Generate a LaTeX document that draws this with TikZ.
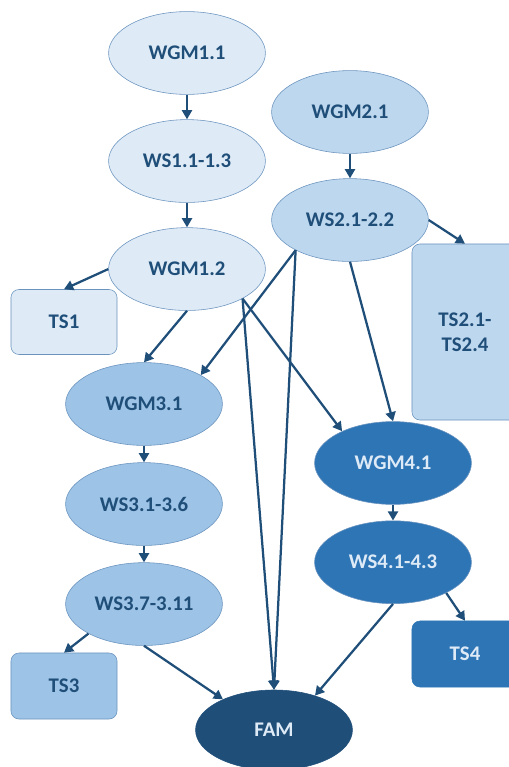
\documentclass[tikz,border=0pt]{standalone}
\usepackage{fontspec}
\setsansfont{Carlito}
\usetikzlibrary{shapes.geometric,arrows.meta}
\definecolor{wgone}{HTML}{DEEBF7}
\definecolor{wgtwo}{HTML}{BDD7EE}
\definecolor{wgthree}{HTML}{9DC3E6}
\definecolor{wgfour}{HTML}{2E75B6}
\definecolor{famblue}{HTML}{1F4E79}
\definecolor{navy}{HTML}{1F4E79}
\definecolor{paletext}{HTML}{DEEBF7}
\definecolor{ovalline}{HTML}{6A93BE}
\begin{document}
\begin{tikzpicture}[
  x=0.025cm, y=-0.025cm,
  oval/.style={ellipse, draw=ovalline, line width=0.4pt, minimum width=3.92cm, minimum height=2.07cm, inner sep=0pt, font=\sffamily\bfseries\fontsize{14.8}{17.5}\selectfont, text=navy},
  tsbox/.style={rectangle, rounded corners=0.2cm, draw=ovalline, line width=0.4pt, minimum width=2.65cm, inner sep=0pt, font=\sffamily\bfseries\fontsize{14.8}{17.5}\selectfont, text=navy, align=center},
  >={Triangle[length=2.3mm,width=2.5mm]},
  link/.style={->, line width=1.6pt, draw=navy},
  node distance=2.7cm
]
\useasboundingbox (0,0) rectangle (508,767);

\node[oval, fill=wgone] (wgm11) at (187,53) {WGM1.1};
\node[oval, fill=wgone, below of=wgm11] (ws11) {WS1.1-1.3};
\node[oval, fill=wgone, below of=ws11] (wgm12) {WGM1.2};

\node[oval, fill=wgtwo] (wgm21) at (350,112) {WGM2.1};
\node[oval, fill=wgtwo, below of=wgm21] (ws21) {WS2.1-2.2};

\node[oval, fill=wgthree] (wgm31) at (144,404) {WGM3.1};
\node[oval, fill=wgthree, below of=wgm31, node distance=2.5cm] (ws31) {WS3.1-3.6};
\node[oval, fill=wgthree, below of=ws31, node distance=2.5cm] (ws37) {WS3.7-3.11};

\node[oval, fill=wgfour, text=paletext] (wgm41) at (393,463) {WGM4.1};
\node[oval, fill=wgfour, text=paletext, below of=wgm41, node distance=2.48cm] (ws41) {WS4.1-4.3};

\node[oval, fill=famblue, draw=famblue, text=paletext, minimum height=2.0cm] (fam) at (274,730) {FAM};

% task boxes
\node[tsbox, fill=wgone, minimum height=1.625cm] (ts1) at (64,322) {TS1};
\node[tsbox, fill=wgtwo, minimum height=4.4cm] (ts2) at (465,332) {TS2.1-\\TS2.4};
\node[tsbox, fill=wgthree, minimum height=1.65cm] (ts3) at (64,686) {TS3};
\node[tsbox, fill=wgfour, draw=wgfour, text=paletext, minimum height=1.65cm] (ts4) at (465,654) {TS4};

\draw[link] (wgm11) -- (ws11);
\draw[link] (ws11) -- (wgm12);
\draw[link] (wgm21) -- (ws21);
\draw[link] (ws21.east) -- (ts2.north);
\draw[link] (wgm12.west) -- (ts1.north);
\draw[link] (wgm12.south) -- (wgm31.north);
\draw[link] (ws21.-151) -- (wgm31.27);
\draw[link] (ws21.-151) -- (fam.north);
\draw[link] (wgm12.-28) -- (fam.north);
\draw[link] (wgm12.-28) -- (wgm41.148);
\draw[link] (ws21.south) -- (wgm41.north);
\draw[link] (wgm31) -- (ws31);
\draw[link] (ws31) -- (ws37);
\draw[link] (ws37.-152) -- (ts3.north);
\draw[link] (ws37.south) -- (fam.149);
\draw[link] (wgm41) -- (ws41);
\draw[link] (ws41.-30) -- (ts4.north);
\draw[link] (ws41.south) -- (fam.40);
\end{tikzpicture}
\end{document}
